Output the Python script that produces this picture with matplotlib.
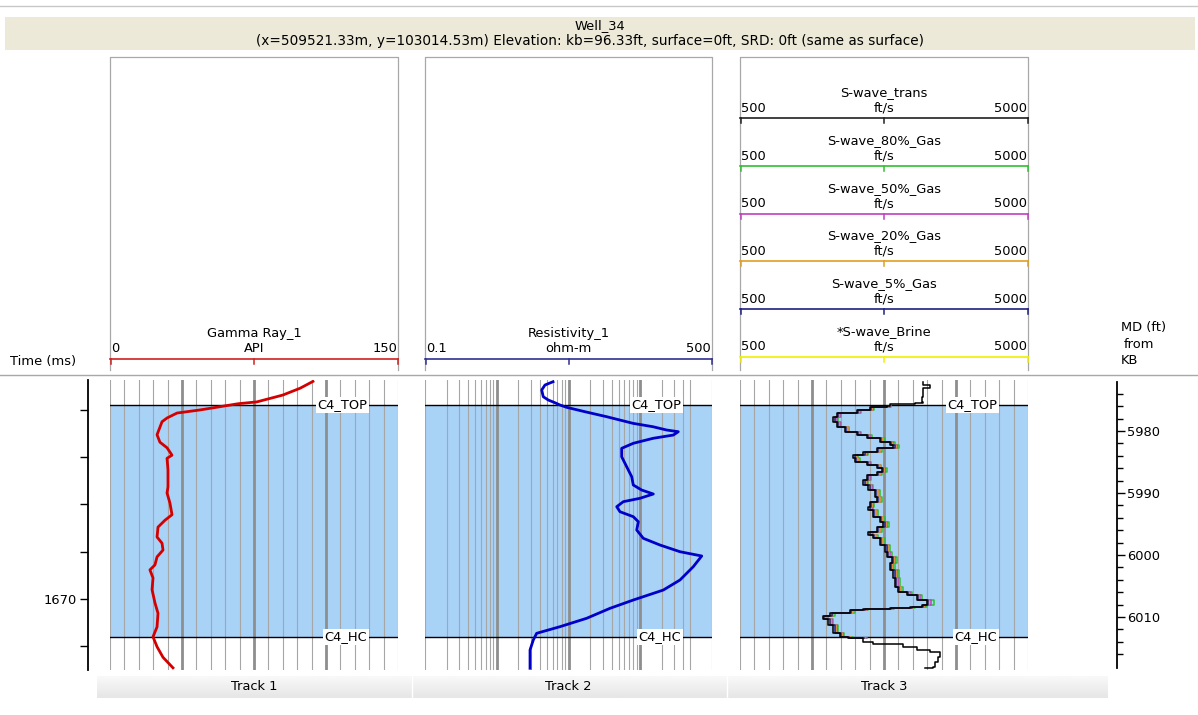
import matplotlib
matplotlib.use("Agg")
import matplotlib.pyplot as plt
import matplotlib.transforms as mtransforms
import numpy as np
from matplotlib.patches import Rectangle
from matplotlib.ticker import NullLocator

W, H = 1198, 715

WELL_NAME = "Well_34"
WELL_INFO = ("(x=509521.33m, y=103014.53m) Elevation: kb=96.33ft, "
             "surface=0ft, SRD: 0ft (same as surface)")
TRACK_NAMES = ["Track 1", "Track 2", "Track 3"]

TOP_NAMES = ["C4_TOP", "C4_HC"]
TOP_DEPTHS = [5975.8, 6013.2]

# gamma ray (API) vs measured depth (ft)
GR_DEPTH = [5972.0, 5973.1, 5974.2, 5975.3, 5975.6, 5976.6, 5977.1, 5977.9,
            5978.5, 5980.6, 5981.8, 5982.7, 5983.9, 5984.4, 5986.3, 5989.0,
            5990.0, 5991.6, 5993.5, 5994.4, 5995.5, 5997.1, 5998.1, 5999.2,
            6000.3, 6001.6, 6002.4, 6003.7, 6005.6, 6007.7, 6009.4, 6011.6,
            6013.2, 6014.8, 6016.5, 6018.2]
GR_API = [105.7, 99.0, 90.0, 76.5, 66.7, 46.9, 34.9, 29.7,
          27.1, 24.5, 26.0, 29.7, 32.3, 29.7, 30.2, 30.2,
          29.7, 31.2, 32.3, 28.6, 25.0, 24.5, 27.1, 27.6,
          24.5, 23.4, 20.8, 22.4, 21.9, 23.4, 25.0, 24.5,
          22.4, 24.5, 27.6, 32.8]

# resistivity (ohm-m)
RES_DEPTH = [5972.05, 5972.58, 5973.39, 5974.47, 5975.0, 5975.44, 5975.81,
             5976.18, 5976.89, 5977.69, 5978.76, 5979.31, 5979.84, 5980.11,
             5980.65, 5981.18, 5981.98, 5982.79, 5984.15, 5985.76, 5987.37,
             5988.71, 5989.52, 5990.16, 5990.85, 5991.40, 5992.21, 5993.02,
             5993.82, 5994.63, 5995.97, 5997.31, 5998.39, 5999.47, 6000.16,
             6001.89, 6004.03, 6005.65, 6007.26, 6008.60, 6010.21, 6011.56,
             6012.63, 6013.71, 6015.32, 6018.27]
RES_OHMM = [6.08, 4.70, 4.23, 4.45, 5.23, 6.48, 7.62,
            9.44, 17.0, 34.0, 79.2, 150.6, 233.6, 339.0,
            289.0, 150.6, 80.0, 55.1, 55.1, 64.7, 76.0,
            80.0, 104.7, 152.0, 99.3, 58.0, 47.0, 52.2,
            80.0, 94.0, 89.3, 110.3, 188.4, 358.0, 719.0,
            548.0, 358.0, 209.6, 80.0, 37.9, 17.9, 7.62,
            3.60, 3.23, 2.91, 2.91]

# shear velocity (ft/s), transformed curve over the full interval
VS_DEPTH = [5972.05, 5972.58, 5973.11, 5974.47, 5975.27, 5975.53, 5975.69,
            5975.97, 5976.18, 5976.61, 5977.05, 5977.15, 5977.69, 5978.50,
            5979.31, 5980.11, 5980.65, 5981.18, 5981.73, 5982.26, 5982.79,
            5983.34, 5983.87, 5984.40, 5984.95, 5985.48, 5986.02, 5986.56,
            5987.10, 5987.90, 5988.71, 5989.52, 5990.60, 5991.40, 5992.21,
            5992.74, 5993.82, 5994.63, 5995.44, 5996.24, 5996.77, 5997.31,
            5998.39, 5999.47, 6000.27, 6001.34, 6002.42, 6003.76, 6005.11,
            6005.92, 6006.45, 6007.26, 6008.06, 6008.34, 6008.60, 6008.76,
            6008.87, 6009.31, 6009.84, 6010.37, 6011.29, 6012.63, 6013.18,
            6013.44, 6013.98, 6014.35, 6014.79, 6015.32, 6015.60, 6016.40,
            6017.21, 6018.02, 6018.27]
VS_TRANS = [3364, 3469, 3364, 3339, 3364, 3234, 2844,
            2792, 2531, 2323, 2271, 2010, 1958, 2010,
            2141, 2323, 2479, 2688, 2844, 2896, 2635,
            2427, 2271, 2297, 2479, 2635, 2714, 2635,
            2479, 2427, 2505, 2609, 2635, 2531, 2505,
            2583, 2688, 2740, 2635, 2505, 2583, 2688,
            2766, 2792, 2870, 2844, 2896, 2922, 2974,
            3104, 3261, 3417, 3339, 3156, 2844, 2427,
            2219, 1906, 1802, 1880, 1958, 2063, 2192,
            2427, 2583, 3052, 3261, 3469, 3625, 3599,
            3547, 3521, 3391]

# gas substitution cases, computed only inside the C4 zone
ZONE_DEPTH = VS_DEPTH[7:64]
VS_5 = [2800, 2550, 2340, 2290, 2030, 1980, 2030, 2160, 2340, 2500,
        2710, 2860, 2920, 2660, 2450, 2290, 2320, 2500, 2660, 2730,
        2660, 2500, 2450, 2530, 2630, 2660, 2550, 2530, 2600, 2710,
        2760, 2660, 2530, 2600, 2710, 2790, 2810, 2890, 2860, 2920,
        2940, 2990, 3120, 3280, 3440, 3360, 3180, 2860, 2450, 2240,
        1930, 1820, 1900, 1980, 2080, 2210, 2440]
VS_20 = [2820, 2570, 2360, 2300, 2050, 1990, 2050, 2180, 2360, 2520,
         2730, 2880, 2940, 2680, 2470, 2310, 2340, 2520, 2680, 2750,
         2680, 2520, 2470, 2550, 2650, 2680, 2570, 2550, 2620, 2730,
         2780, 2680, 2550, 2620, 2730, 2810, 2830, 2910, 2880, 2940,
         2960, 3010, 3140, 3300, 3460, 3380, 3200, 2880, 2470, 2260,
         1950, 1840, 1920, 2000, 2100, 2230, 2460]
VS_50 = [2840, 2580, 2370, 2320, 2060, 2010, 2060, 2190, 2370, 2530,
         2740, 2890, 2950, 2690, 2480, 2320, 2350, 2530, 2690, 2760,
         2690, 2530, 2480, 2560, 2660, 2690, 2580, 2560, 2630, 2740,
         2790, 2690, 2560, 2630, 2740, 2820, 2840, 2920, 2890, 2950,
         2970, 3020, 3150, 3310, 3480, 3390, 3210, 2890, 2480, 2270,
         1960, 1850, 1930, 2010, 2110, 2240, 2470]
VS_80 = [2860, 2600, 2390, 2340, 2080, 2030, 2080, 2210, 2390, 2560,
         2770, 2920, 2990, 2720, 2500, 2340, 2370, 2550, 2710, 2790,
         2720, 2550, 2500, 2580, 2680, 2720, 2600, 2580, 2650, 2770,
         2830, 2720, 2580, 2650, 2760, 2850, 2870, 2950, 2920, 2980,
         3000, 3050, 3180, 3340, 3530, 3420, 3240, 2910, 2500, 2290,
         1980, 1870, 1950, 2030, 2130, 2260, 2490]

MD_TICKS = [5980, 5990, 6000, 6010]
TIME_TICKS = [1662, 1664, 1666, 1668, 1670, 1672]
TIME_LABELS = ["", "", "", "", "1670", ""]

# header scales: (name, unit, left, right, colour)
GR_SCALE = ("Gamma Ray_1", "API", "0", "150", "#d02020")
RES_SCALE = ("Resistivity_1", "ohm-m", "0.1", "500", "#303090")
VS_SCALES = [
    ("S-wave_trans", "ft/s", "500", "5000", "#202020"),
    ("S-wave_80%_Gas", "ft/s", "500", "5000", "#30c030"),
    ("S-wave_50%_Gas", "ft/s", "500", "5000", "#c040c0"),
    ("S-wave_20%_Gas", "ft/s", "500", "5000", "#e0a020"),
    ("S-wave_5%_Gas", "ft/s", "500", "5000", "#202080"),
    ("*S-wave_Brine", "ft/s", "500", "5000", "#f0f000"),
]

# depth window of the log tracks
D_TOP, D_BOT = 5971.77, 6018.55
T_TOP, T_BOT = 1660.74, 1673.0

# pixel layout
TRACK_X = [(110, 398), (425, 712), (740, 1028)]
DATA_Y = (380, 670)
FILL = "#a9d2f7"
GRID = "#a6a6a6"
GRID_MAJOR = "#8e8e8e"
FS = 9.4


def rect(x0, y0, x1, y1):
    return [x0 / W, 1 - y1 / H, (x1 - x0) / W, (y1 - y0) / H]


def draw_scale(ax, x0, x1, y_line, spec):
    name, unit, left, right, color = spec
    xm = 0.5 * (x0 + x1)
    ax.text(xm, y_line - 25.5, name, ha="center", va="center", fontsize=FS)
    ax.text(xm, y_line - 10, unit, ha="center", va="center", fontsize=FS)
    ax.text(x0 + 1, y_line - 10, left, ha="left", va="center", fontsize=FS)
    ax.text(x1 - 1, y_line - 10, right, ha="right", va="center", fontsize=FS)
    ax.plot([x0, x1], [y_line, y_line], color=color, lw=1.2)
    for xt in (x0 + 0.5, xm, x1 - 0.5):
        ax.plot([xt, xt], [y_line, y_line + 5], color=color, lw=1.1)


def setup_track(ax, grid_vals, major_vals, x_right):
    ax.set_ylim(D_BOT, D_TOP)
    for s in ax.spines.values():
        s.set_visible(False)
    ax.xaxis.set_major_locator(NullLocator())
    ax.xaxis.set_minor_locator(NullLocator())
    ax.yaxis.set_major_locator(NullLocator())
    ax.yaxis.set_minor_locator(NullLocator())
    ax.axhspan(TOP_DEPTHS[0], TOP_DEPTHS[1], color=FILL, lw=0, zorder=0)
    for v in grid_vals:
        ax.axvline(v, color=GRID, lw=0.8, zorder=1)
    for v in major_vals:
        ax.axvline(v, color=GRID_MAJOR, lw=2.0, zorder=1)
    ax.axvline(x_right, color=GRID, lw=0.8, zorder=1)
    trans = mtransforms.blended_transform_factory(ax.transAxes, ax.transData)
    for name, d in zip(TOP_NAMES, TOP_DEPTHS):
        ax.axhline(d, color="black", lw=1.0, zorder=2)
        ax.text(0.893, d, name, transform=trans, ha="right", va="center",
                fontsize=FS, zorder=5,
                bbox=dict(boxstyle="square,pad=0.12", fc="white", ec="none"))


fig = plt.figure(figsize=(W / 100, H / 100), dpi=100)

# page furniture in pixel coordinates
ax0 = fig.add_axes([0, 0, 1, 1])
ax0.set_xlim(0, W)
ax0.set_ylim(H, 0)
ax0.axis("off")
ax0.plot([0, W], [6, 6], color="#c8c8c8", lw=1.0)
ax0.add_patch(Rectangle((5, 17), 1190, 33, fc="#ece9d8", ec="none"))
ax0.text(600, 25.5, WELL_NAME, ha="center", va="center", fontsize=FS)
ax0.text(590, 41.5, WELL_INFO, ha="center", va="center", fontsize=9.8)
ax0.plot([0, W], [374.5, 374.5], color="#a8a8a8", lw=1.0)
for x0, x1 in TRACK_X:
    ax0.plot([x0, x0, x1, x1], [370, 57, 57, 370], color="#a8a8a8", lw=0.9)

draw_scale(ax0, *TRACK_X[0], 358.7, GR_SCALE)
draw_scale(ax0, *TRACK_X[1], 358.7, RES_SCALE)
for i, spec in enumerate(VS_SCALES):
    draw_scale(ax0, *TRACK_X[2], 118.3 + 47.7 * i, spec)

ax0.text(10, 362, "Time (ms)", ha="left", va="center", fontsize=FS)
ax0.text(1121, 328, "MD (ft)", ha="left", va="center", fontsize=FS)
ax0.text(1124, 344, "from", ha="left", va="center", fontsize=FS)
ax0.text(1121, 361, "KB", ha="left", va="center", fontsize=FS)

# track name bar
grad = np.linspace(0.975, 0.9, 30).reshape(-1, 1)
ax0.imshow(grad, extent=[97, 1108, 698, 676], aspect="auto", cmap="gray",
           vmin=0, vmax=1, interpolation="bilinear", zorder=0)
for xs in (411.5, 726.5):
    ax0.plot([xs, xs], [676, 698], color="white", lw=1.0)
for (x0, x1), name in zip(TRACK_X, TRACK_NAMES):
    ax0.text(0.5 * (x0 + x1), 687, name, ha="center", va="center", fontsize=FS)

# track 1: gamma ray
ax1 = fig.add_axes(rect(TRACK_X[0][0], DATA_Y[0], TRACK_X[0][1], DATA_Y[1]))
ax1.set_xlim(0, 150)
gr_grid = np.arange(0, 150, 7.5)
setup_track(ax1, gr_grid, gr_grid[5::5], 150)
ax1.plot(GR_API, GR_DEPTH, color="#d40000", lw=2.0, zorder=4)

# track 2: resistivity, logarithmic
ax2 = fig.add_axes(rect(TRACK_X[1][0], DATA_Y[0], TRACK_X[1][1], DATA_Y[1]))
ax2.set_xscale("log")
ax2.set_xlim(0.1, 1000)
res_grid = [m * dec for dec in (0.1, 1, 10, 100) for m in range(1, 10)
            if m * dec <= 500]
setup_track(ax2, res_grid, [1, 10, 100], 1000)
ax2.plot(RES_OHMM, RES_DEPTH, color="#0000c8", lw=2.0, zorder=4)

# track 3: shear velocity cases
ax3 = fig.add_axes(rect(TRACK_X[2][0], DATA_Y[0], TRACK_X[2][1], DATA_Y[1]))
ax3.set_xlim(500, 5000)
vs_grid = np.arange(500, 5000, 225)
setup_track(ax3, vs_grid, vs_grid[5::5], 5000)
for vals, spec in zip([VS_80, VS_50, VS_20, VS_5], VS_SCALES[1:5]):
    ax3.plot(vals, ZONE_DEPTH, color=spec[4], lw=1.1, drawstyle="steps-pre",
             zorder=3)
ax3.plot(VS_TRANS, VS_DEPTH, color="black", lw=1.1, drawstyle="steps-pre",
         zorder=4)

# time axis on the left
axt = fig.add_axes(rect(88, DATA_Y[0], 100, DATA_Y[1]))
axt.set_facecolor("none")
axt.set_ylim(T_BOT, T_TOP)
for side in ("top", "right", "bottom"):
    axt.spines[side].set_visible(False)
axt.spines["left"].set_linewidth(1.3)
axt.set_xticks([])
axt.set_yticks(TIME_TICKS)
axt.set_yticklabels(TIME_LABELS)
axt.tick_params(axis="y", direction="out", length=6, width=1.0, pad=2,
                labelsize=FS)

# measured depth axis on the right
axm = fig.add_axes(rect(1100, DATA_Y[0], 1117, DATA_Y[1]))
axm.set_facecolor("none")
axm.set_ylim(D_BOT, D_TOP)
for side in ("top", "left", "bottom"):
    axm.spines[side].set_visible(False)
axm.spines["right"].set_linewidth(1.3)
axm.spines["right"].set_bounds(5972.1, 6018.2)
axm.set_xticks([])
axm.yaxis.tick_right()
axm.set_yticks(MD_TICKS)
axm.set_yticks(np.arange(5974, 6018, 2), minor=True)
axm.tick_params(axis="y", which="major", direction="out", length=6, width=1.0,
                pad=1, labelsize=FS)
axm.tick_params(axis="y", which="minor", direction="out", length=4, width=1.0)

fig.savefig("out.png", dpi=100)
